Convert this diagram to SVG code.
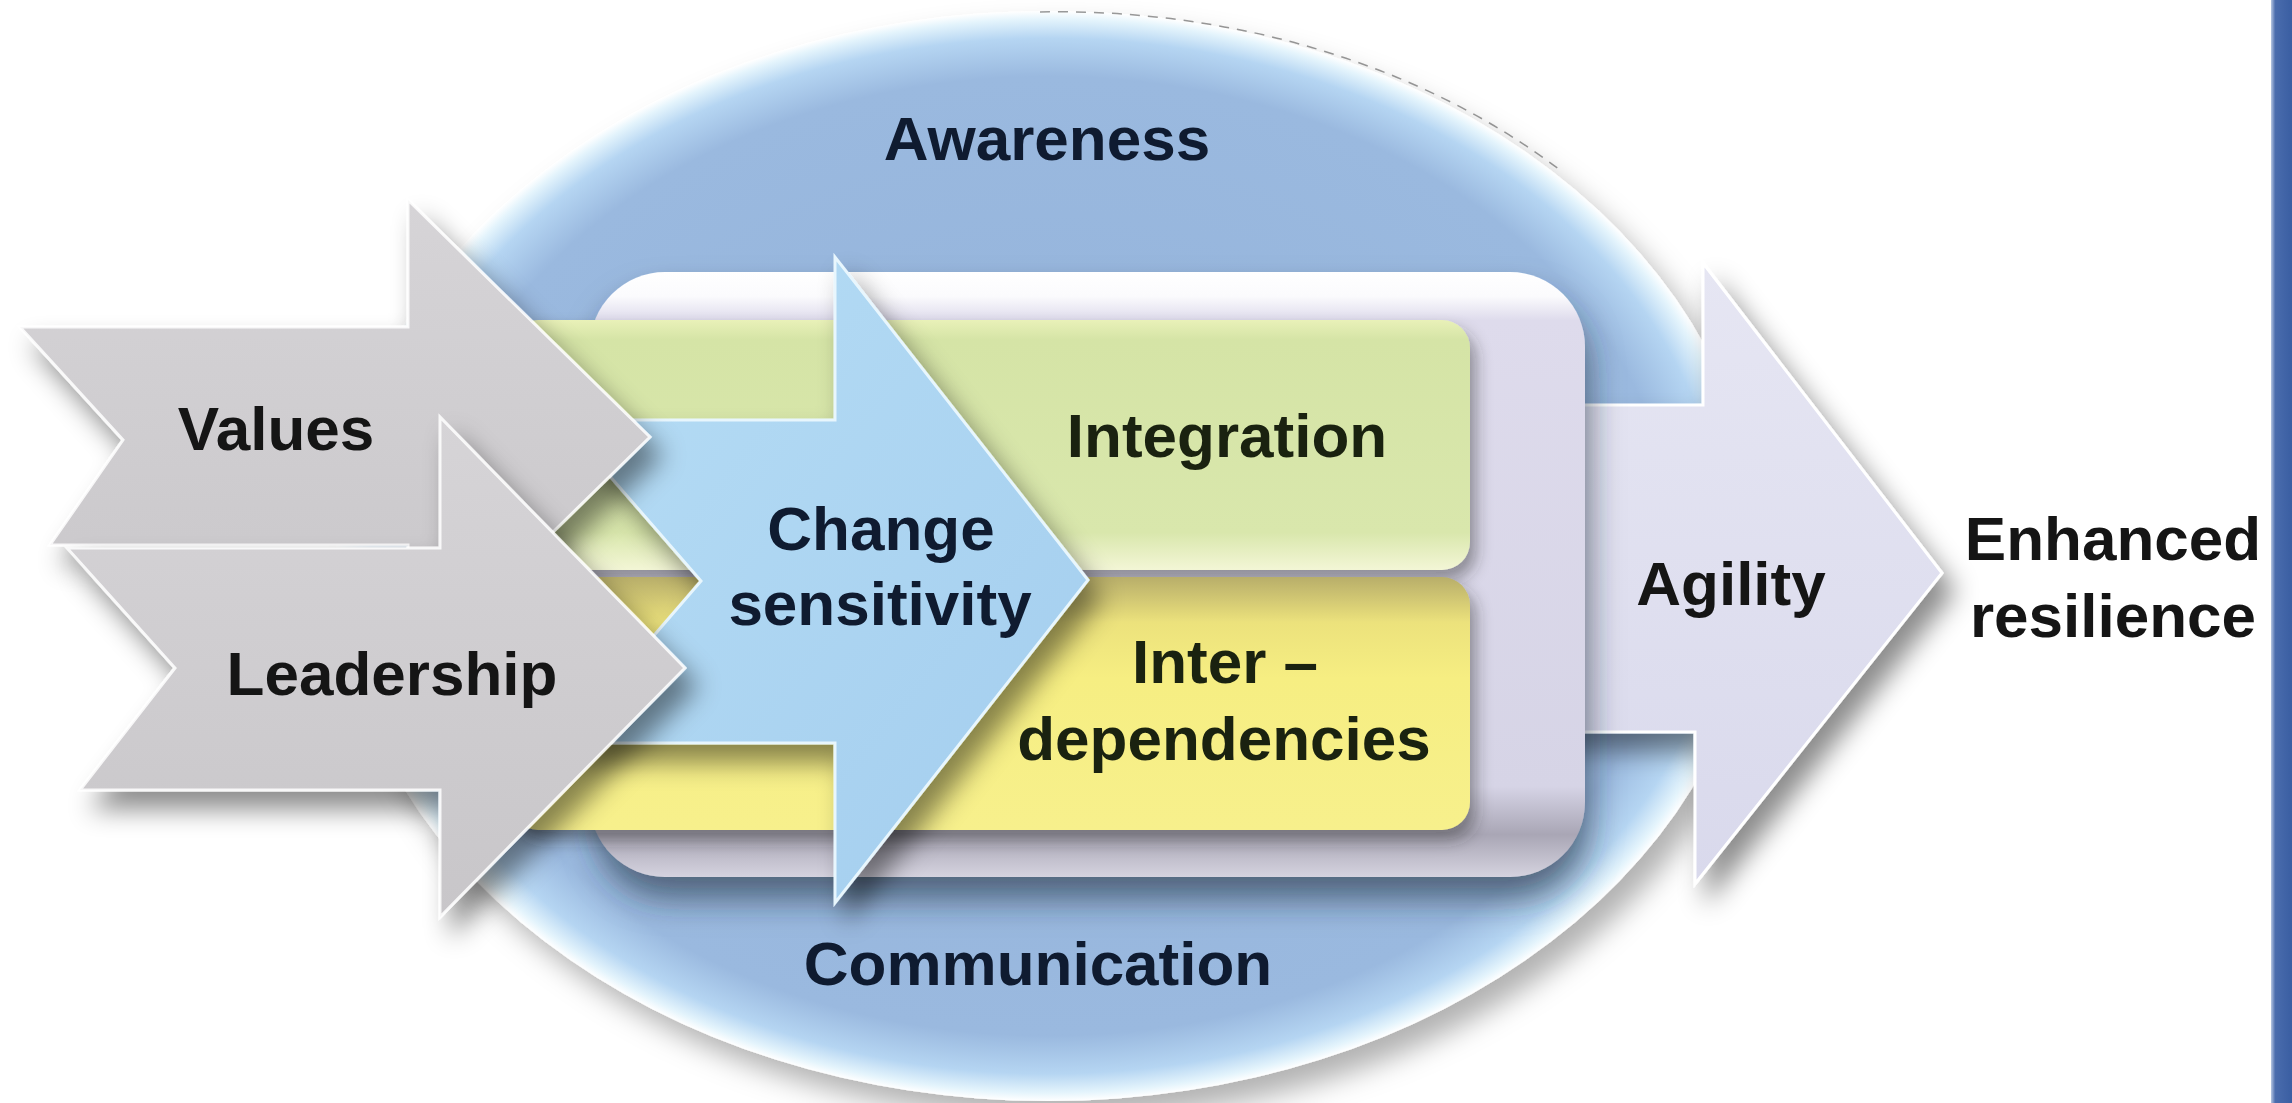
<svg xmlns="http://www.w3.org/2000/svg" width="2292" height="1103" viewBox="0 0 2292 1103">
<defs>
<style>
.t{font-family:"Liberation Sans",Arial,sans-serif;font-weight:bold;font-size:62px;text-anchor:middle}
.navy{fill:#0f1b30}
.dark{fill:#151515}
.olive{fill:#1a2210}
.grey{fill:url(#greyG);stroke:#ffffff;stroke-width:3;stroke-opacity:0.85}
</style>
<radialGradient id="ellG" cx="0.5" cy="0.5" r="0.5">
<stop offset="0" stop-color="#93b2da"/>
<stop offset="0.88" stop-color="#9ab9df"/>
<stop offset="0.95" stop-color="#b5d5f2"/>
<stop offset="0.985" stop-color="#e4f4fc"/>
<stop offset="1" stop-color="#ffffff"/>
</radialGradient>
<linearGradient id="greyG" x1="0" y1="0" x2="0" y2="1">
<stop offset="0" stop-color="#d6d4d7"/>
<stop offset="1" stop-color="#c8c6c9"/>
</linearGradient>
<linearGradient id="blueA" x1="0" y1="0" x2="1" y2="1">
<stop offset="0" stop-color="#b6ddf5"/>
<stop offset="1" stop-color="#a3cdee"/>
</linearGradient>
<linearGradient id="agiG" x1="0" y1="0" x2="0" y2="1">
<stop offset="0" stop-color="#e6e6f3"/>
<stop offset="1" stop-color="#d9d9ec"/>
</linearGradient>
<linearGradient id="frameG" x1="0" y1="0" x2="0" y2="1">
<stop offset="0" stop-color="#ffffff"/>
<stop offset="0.04" stop-color="#fbfbfd"/>
<stop offset="0.08" stop-color="#dedbec"/>
<stop offset="0.85" stop-color="#d6d4e6"/>
<stop offset="0.93" stop-color="#a9a6b5"/>
<stop offset="1" stop-color="#d5d3df"/>
</linearGradient>
<linearGradient id="greenG" x1="0" y1="0" x2="0" y2="1">
<stop offset="0" stop-color="#e9f1b8"/>
<stop offset="0.08" stop-color="#d5e4a6"/>
<stop offset="0.85" stop-color="#d9e7ac"/>
<stop offset="1" stop-color="#f3f6d6"/>
</linearGradient>
<linearGradient id="yellowG" x1="0" y1="0" x2="0" y2="1">
<stop offset="0" stop-color="#b8ae6a"/>
<stop offset="0.18" stop-color="#ece27c"/>
<stop offset="0.4" stop-color="#f6ee82"/>
<stop offset="1" stop-color="#f7f08c"/>
</linearGradient>
<linearGradient id="barG" x1="0" y1="0" x2="1" y2="0">
<stop offset="0" stop-color="#b6c6e2"/>
<stop offset="0.2" stop-color="#4a6cad"/>
<stop offset="1" stop-color="#3a5ea2"/>
</linearGradient>
<filter id="sh" x="-20%" y="-20%" width="150%" height="150%">
<feDropShadow dx="12" dy="18" stdDeviation="13" flood-color="#000" flood-opacity="0.45"/>
</filter>
<filter id="shS" x="-20%" y="-20%" width="150%" height="150%">
<feDropShadow dx="6" dy="10" stdDeviation="8" flood-color="#2a2a2a" flood-opacity="0.45"/>
</filter>
<filter id="shF" x="-20%" y="-20%" width="150%" height="150%">
<feDropShadow dx="4" dy="22" stdDeviation="16" flood-color="#1e2a3c" flood-opacity="0.6"/>
</filter>
<filter id="shE" x="-10%" y="-10%" width="125%" height="125%">
<feDropShadow dx="14" dy="18" stdDeviation="14" flood-color="#000" flood-opacity="0.3"/>
</filter>
</defs>
<rect width="2292" height="1103" fill="#ffffff"/>
<g id="sidebar">
<rect x="2271" y="0" width="21" height="1103" fill="url(#barG)"/>
</g>
<g id="awareness-communication">
<ellipse cx="1048" cy="556" rx="712" ry="545" fill="url(#ellG)" filter="url(#shE)"/>
<path d="M1040,12 A712,545 0 0 1 1560,170" fill="none" stroke="#555" stroke-width="1.5" stroke-dasharray="10,8" opacity="0.6"/>
<text class="t navy" x="1047" y="160">Awareness</text>
<text class="t navy" x="1038" y="985">Communication</text>
</g>
<g id="agility">
<path d="M1500,405 L1703,405 L1703,263 L1942,573 L1695,884 L1695,732 L1500,732 Z" fill="url(#agiG)" stroke="#ffffff" stroke-width="3" filter="url(#sh)"/>
<text class="t dark" x="1731" y="605">Agility</text>
</g>
<g id="frame">
<rect x="590" y="272" width="995" height="605" rx="75" fill="url(#frameG)" filter="url(#shF)"/>
</g>
<g id="integration">
<rect x="510" y="320" width="960" height="250" rx="28" fill="url(#greenG)" filter="url(#shS)"/>
<text class="t olive" x="1227" y="457">Integration</text>
</g>
<g id="interdependencies">
<rect x="510" y="577" width="960" height="253" rx="28" fill="url(#yellowG)" filter="url(#shS)"/>
<text class="t olive" x="1225" y="683">Inter –</text>
<text class="t olive" x="1224" y="760">dependencies</text>
</g>
<g id="change-sensitivity">
<path d="M561,420 L835,420 L835,257 L1088,580 L835,903 L835,743 L561,743 L701,581 Z" fill="url(#blueA)" stroke="#e8f6fd" stroke-width="3" filter="url(#sh)"/>
<text class="t navy" x="881" y="550">Change</text>
<text class="t navy" x="880" y="625">sensitivity</text>
</g>
<g id="values">
<path class="grey" d="M20,327 L408,327 L408,200 L650,437 L408,674 L408,545 L50,545 L123,440 Z" filter="url(#sh)"/>
<text class="t dark" x="276" y="450">Values</text>
</g>
<g id="leadership">
<path class="grey" d="M67,548 L440,548 L440,417 L685,668 L440,917 L440,790 L80,790 L175,668 Z" filter="url(#sh)"/>
<text class="t dark" x="392" y="695">Leadership</text>
</g>
<g id="enhanced-resilience">
<text class="t dark" x="2113" y="560">Enhanced</text>
<text class="t dark" x="2113" y="637">resilience</text>
</g>
<g id="connectors"/>
</svg>
